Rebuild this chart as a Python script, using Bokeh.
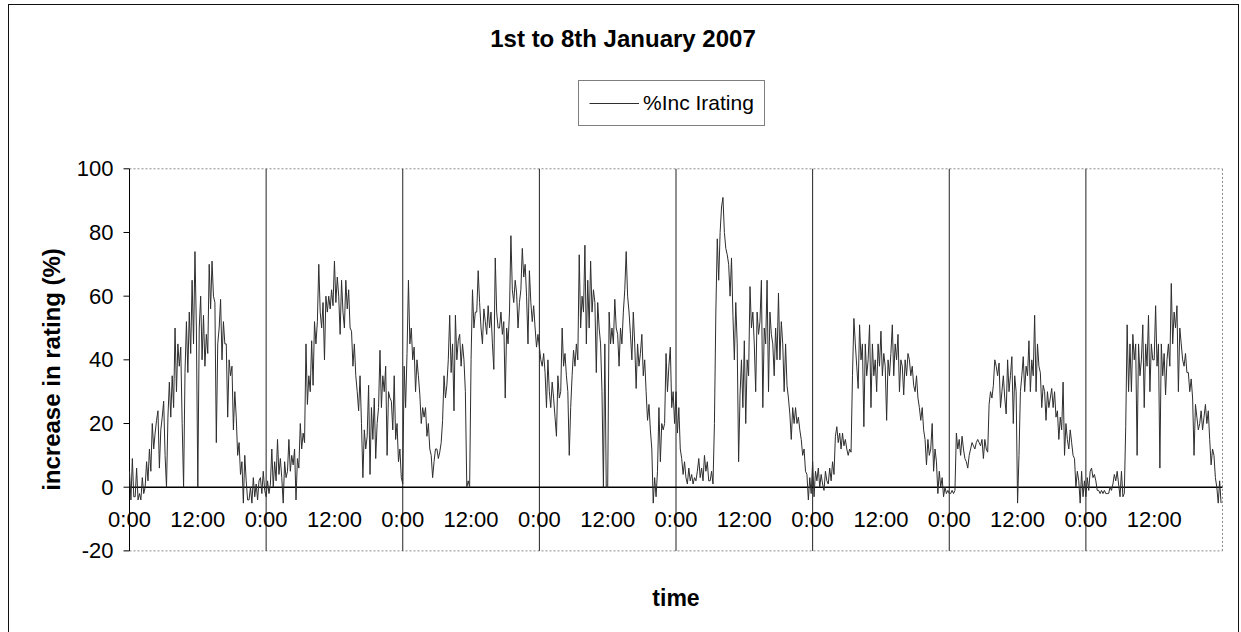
from bokeh.plotting import figure
from bokeh.models import FixedTicker, Label, Legend, LegendItem, Range1d
from bokeh.embed import file_html
from bokeh.resources import INLINE
import math

title_text = "1st to 8th January 2007"
series_name = "%Inc Irating"
y_title = "increase in rating (%)"
x_title = "time"
samples_per_day = 96   # one reading every 15 minutes
n_days = 8

day1 = [5, -4, 9, -3, -3, 6, -4, -2, -4, 3, -2, 0, 8, 2, 12, 5, 20, 12, 17, 21, 24, 6, 18, 22,
        27, 10, 0, 22, 33, 22, 35, 25, 50, 30, 45, 38, 44, 20, 0, 36, 52, 36, 55, 42, 65, 45, 74, 50,
        0, 50, 60, 40, 54, 38, 48, 42, 70, 56, 71, 60, 58, 14, 45, 50, 59, 40, 52, 45, 45, 22, 40, 35,
        38, 18, 30, 22, 10, 14, 4, 8, -5, 10, 2, -4, -4, 0, -5, 3, -3, 1, -4, 2, 3, -2, 5, -1]
day2 = [-3, 2, -2, 1, 12, 0, 8, 2, 15, 4, 9, 3, -5, 8, 3, 5, 15, 5, 10, 7, 12, -4, 9, 6,
        20, 12, 17, 14, 45, 26, 35, 30, 46, 32, 52, 45, 52, 70, 55, 50, 58, 40, 60, 55, 60, 56, 62, 57,
        71, 58, 66, 60, 48, 65, 55, 50, 65, 56, 62, 50, 49, 38, 45, 35, 30, 24, 35, 20, 3, 18, 12, 16,
        32, 4, 25, 15, 28, 9, 20, 25, 43, 25, 35, 30, 38, 10, 30, 28, 27, 18, 35, 15, 20, 8, 12, 3]
day3 = [1, 38, 25, 42, 65, 45, 50, 40, 44, 30, 40, 35, 29, 20, 25, 22, 25, 16, 20, 12, 10, 3, 8, 12,
        12, 9, 11, 14, 21, 35, 28, 32, 40, 54, 36, 45, 24, 54, 40, 46, 48, 38, 45, 40, 30, 0, 2, 0,
        40, 62, 50, 55, 55, 68, 58, 50, 45, 56, 52, 48, 57, 50, 55, 45, 37, 72, 55, 50, 50, 55, 48, 52,
        28, 50, 45, 55, 79, 62, 58, 65, 61, 50, 58, 62, 75, 66, 70, 60, 45, 68, 58, 52, 57, 50, 44, 48]
day4 = [44, 40, 38, 42, 36, 25, 40, 30, 25, 33, 28, 22, 16, 35, 28, 30, 50, 38, 42, 35, 30, 10, 25, 35,
        43, 38, 45, 40, 73, 50, 60, 55, 76, 45, 65, 50, 71, 55, 62, 58, 36, 58, 50, 45, 30, 0, 45, 0,
        0, 55, 45, 50, 45, 59, 50, 48, 38, 50, 45, 55, 62, 74, 60, 55, 48, 40, 55, 45, 31, 45, 38, 42,
        48, 35, 40, 30, 21, 26, 18, 12, -5, 3, -3, 5, 25, 8, 20, 18, 20, 42, 30, 38, 44, 25, 30, 20]
day5 = [30, 17, 25, 12, 9, 4, 8, 3, 1, 6, 2, 4, 1, 3, 2, 5, 9, 3, 6, 2, 10, 5, 8, 2,
        2, 5, 1, 20, 55, 78, 65, 80, 88, 91, 80, 75, 73, 70, 60, 72, 54, 40, 58, 45, 8, 29, 40, 25,
        46, 20, 40, 35, 63, 50, 55, 45, 30, 55, 48, 52, 65, 25, 50, 45, 65, 30, 55, 48, 45, 35, 50, 40,
        61, 40, 52, 45, 30, 45, 32, 28, 23, 15, 25, 20, 25, 20, 22, 18, 15, 10, 12, 5, 4, -4, 3, -2]
day6 = [8, -3, 5, 2, 6, 0, 4, 1, -1, 5, 2, 1, 6, 2, 8, 4, 16, 19, 14, 17, 12, 17, 13, 15,
        12, 10, 12, 11, 35, 53, 45, 38, 31, 51, 40, 45, 19, 45, 35, 40, 51, 25, 45, 35, 40, 30, 45, 38,
        49, 35, 42, 38, 21, 40, 35, 42, 51, 35, 45, 40, 48, 30, 40, 38, 29, 40, 35, 42, 40, 35, 38, 32,
        30, 35, 28, 25, 21, 25, 18, 15, 7, 15, 10, 12, 20, 5, 12, 8, -2, 5, 0, 3, -3, 0, -2, -1]
day7 = [-2, -2, -1, -2, -1, 17, 12, 15, 10, 16, 12, 9, 8, 6, 10, 12, 14, 13, 12, 14, 15, 14, 13, 15,
        9, 15, 12, 11, 26, 30, 28, 32, 40, 38, 35, 39, 25, 30, 35, 28, 23, 40, 30, 35, 41, 20, 35, 30,
        -5, 10, 30, 35, 41, 30, 38, 35, 46, 30, 40, 35, 54, 30, 45, 38, 36, 25, 32, 30, 21, 30, 25, 28,
        31, 25, 30, 22, 24, 15, 22, 18, 33, 10, 20, 15, 12, 18, 14, 10, 9, 0, 5, 2, -5, 5, -3, 2]
day8 = [-3, 3, -1, 5, 6, 3, 4, 2, -1, -1, -2, -1, -2, -1, -2, -2, -2, 0, -1, 1, 4, 2, 5, 1,
        -3, 5, -3, -2, 19, 51, 30, 45, 30, 48, 40, 45, 10, 45, 35, 40, 51, 25, 45, 38, 54, 30, 45, 40,
        40, 57, 38, 45, 6, 45, 35, 42, 29, 40, 45, 38, 64, 45, 55, 50, 57, 30, 50, 45, 40, 38, 42, 36,
        36, 30, 34, 28, 10, 26, 22, 18, 20, 24, 18, 22, 26, 20, 24, 15, 7, 12, 10, 3, 0, -5, 2, -5]

values = day1 + day2 + day3 + day4 + day5 + day6 + day7 + day8
hours = [i * 24 / samples_per_day for i in range(len(values))]

x_end = 24 * n_days
tick_hours = list(range(0, x_end, 12))
tick_labels = {h: ("0:00" if h % 24 == 0 else "12:00") for h in tick_hours}
day_bounds = list(range(24, x_end, 24))
y_ticks = [-20, 0, 20, 40, 60, 80, 100]
y_tick_labels = {t: str(t) for t in y_ticks}
y_min, y_max = -20, 100

FONT = "Liberation Sans"

# ---- page geometry (pixels) ----
FIG_X, FIG_Y, FIG_W, FIG_H = 9, 5, 1229, 627
FRAME_L, FRAME_R, FRAME_T, FRAME_B = 20, 1238, 5, 624
AX_X0, AX_X1 = 129, 1222      # x = 0 and x = x_end
AX_Y0, AX_Y100 = 486.7, 168.3  # y = 0 and y = 100
sx = (AX_X1 - AX_X0) / x_end
sy = (AX_Y0 - AX_Y100) / 100.0
px2x = lambda px: (px - AX_X0) / sx
py2y = lambda py: (AX_Y0 - py) / sy

p = figure(width=FIG_W, height=FIG_H,
           x_range=Range1d(px2x(FRAME_L), px2x(FRAME_R)),
           y_range=Range1d(py2y(FRAME_B), py2y(FRAME_T)),
           output_backend="svg", toolbar_location=None,
           min_border_left=FRAME_L - FIG_X, min_border_right=FIG_X + FIG_W - FRAME_R,
           min_border_top=FRAME_T - FIG_Y, min_border_bottom=FIG_Y + FIG_H - FRAME_B,
           margin=(FIG_Y, 0, 0, FIG_X))
p.styles = {"outline": "1.5px solid #111"}
p.background_fill_color = "white"
p.border_fill_color = "white"
p.outline_line_color = None
for g in p.grid:
    g.visible = False

# y axis: tick labels placed right next to the plot area's left edge
ya = p.yaxis[0]
ya.ticker = FixedTicker(ticks=y_ticks)
ya.major_label_overrides = y_tick_labels
ya.axis_line_color = None
ya.major_tick_out = 0
ya.major_tick_in = 0
ya.minor_tick_out = 0
ya.minor_tick_in = 0
ya.major_label_standoff = -round(112.7 - FRAME_L)
ya.major_label_text_font = FONT
ya.major_label_text_font_size = "22px"
ya.major_label_text_color = "black"

# x axis: tick labels just under the zero line
xa = p.xaxis[0]
xa.ticker = FixedTicker(ticks=tick_hours)
xa.major_label_overrides = tick_labels
xa.axis_line_color = None
xa.major_tick_out = 0
xa.major_tick_in = 0
xa.minor_tick_out = 0
xa.minor_tick_in = 0
xa.major_label_standoff = -round(FRAME_B - 506)
xa.major_label_text_font = FONT
xa.major_label_text_font_size = "22px"
xa.major_label_text_color = "black"

# plot-area frame: dotted top/right/bottom, solid axis at left, zero line
p.multi_line(xs=[[0, x_end], [x_end, x_end], [0, x_end]],
             ys=[[y_max, y_max], [y_min, y_max], [y_min, y_min]],
             line_color="#8a8a8a", line_width=1, line_dash="2 2")
p.segment(x0=day_bounds, y0=[y_min] * len(day_bounds), x1=day_bounds, y1=[y_max] * len(day_bounds),
          line_color="#222222", line_width=1)
p.segment(x0=[0], y0=[y_min], x1=[0], y1=[y_max], line_color="black", line_width=1)
tick_len = 6 / sx
p.segment(x0=[-tick_len] * len(y_ticks), y0=y_ticks, x1=[0] * len(y_ticks), y1=y_ticks,
          line_color="black", line_width=1)
p.segment(x0=[0], y0=[0], x1=[x_end], y1=[0], line_color="black", line_width=1.6)

r = p.line(hours, values, line_color="#2e2e2e", line_width=1)

legend = Legend(items=[LegendItem(label=series_name, renderers=[r])],
                location=(578 - FRAME_L, FRAME_B - 126))
legend.border_line_color = "black"
legend.border_line_width = 1
legend.padding = 10
legend.margin = 0
legend.spacing = 0
legend.glyph_width = 50
legend.label_standoff = 4
legend.label_text_font = FONT
legend.label_text_font_size = "21px"
legend.label_text_color = "black"
legend.background_fill_alpha = 1
p.add_layout(legend)

p.add_layout(Label(x=px2x(622.5), y=py2y(37.5), text=title_text,
                   text_align="center", text_baseline="middle", text_font=FONT,
                   text_font_style="bold", text_font_size="24px", text_color="black"))
p.add_layout(Label(x=px2x(51), y=py2y(369), text=y_title, angle=math.pi / 2,
                   text_align="center", text_baseline="middle", text_font=FONT,
                   text_font_style="bold", text_font_size="24px", text_color="black"))
p.add_layout(Label(x=x_end / 2, y=py2y(597), text=x_title,
                   text_align="center", text_baseline="alphabetic", text_font=FONT,
                   text_font_style="bold", text_font_size="23px", text_color="black"))

open("out.html", "w").write(file_html(p, INLINE))
